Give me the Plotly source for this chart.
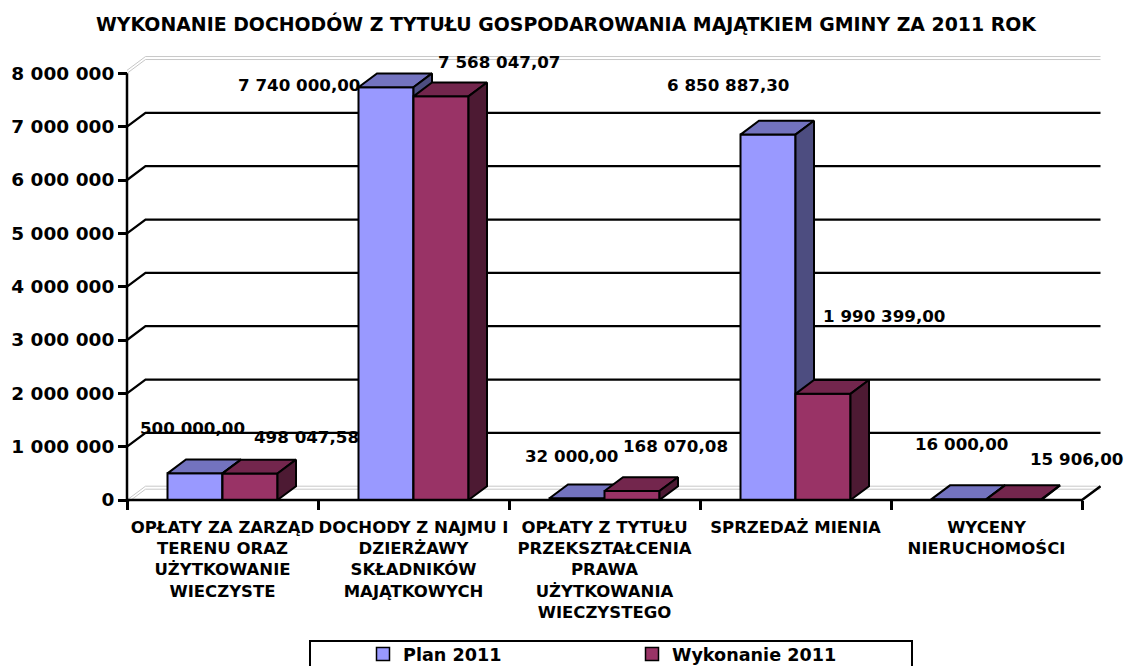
import plotly.graph_objects as go

# ---------------- data ----------------
categories = [
    "OPŁATY ZA ZARZĄD<br>TERENU ORAZ<br>UŻYTKOWANIE<br>WIECZYSTE",
    "DOCHODY Z NAJMU I<br>DZIERŻAWY<br>SKŁADNIKÓW<br>MAJĄTKOWYCH",
    "OPŁATY Z TYTUŁU<br>PRZEKSZTAŁCENIA<br>PRAWA<br>UŻYTKOWANIA<br>WIECZYSTEGO",
    "SPRZEDAŻ MIENIA",
    "WYCENY<br>NIERUCHOMOŚCI",
]
plan_2011 = [500000.00, 7740000.00, 32000.00, 6850887.30, 16000.00]
wykonanie_2011 = [498047.58, 7568047.07, 168070.08, 1990399.00, 15906.00]
series_names = ["Plan 2011", "Wykonanie 2011"]
y_tick_values = [0, 1000000, 2000000, 3000000, 4000000, 5000000, 6000000, 7000000, 8000000]
y_tick_labels = ["0", "1 000 000", "2 000 000", "3 000 000", "4 000 000",
                 "5 000 000", "6 000 000", "7 000 000", "8 000 000"]
title_text = "WYKONANIE DOCHODÓW Z TYTUŁU GOSPODAROWANIA MAJĄTKIEM GMINY ZA 2011 ROK"

# ---------------- layout / style constants ----------------
W, H = 1126, 666
ML, MR, MT, MB = 110, 25, 50, 154
PW, PH = W - ML - MR, H - MT - MB
CAT_PX = 191.0            # pixels per category
AX_X_PX = 127.0           # pixel x of the value axis
AX_Y_PX = 500.0           # pixel y of the category axis
PX_PER_VAL = 53.333 / 1e6 # pixels per value unit

x_min = -0.5 - (AX_X_PX - ML) / CAT_PX
x_max = x_min + PW / CAT_PX
y_min = -((MT + PH) - AX_Y_PX) / PX_PER_VAL
y_max = y_min + PH / PX_PER_VAL

DX = 18.5 / CAT_PX        # 3-D depth, category units
DY = 13.8 / PX_PER_VAL    # 3-D depth, value units
BAR_W = 55.0 / CAT_PX
GAP3 = 3.0 / PX_PER_VAL

FONT = "DejaVu Sans"
front_colors = ["#9999FF", "#993366"]
top_colors = ["#7373BF", "#73264D"]
side_colors = ["#4D4D80", "#4D1A33"]

# data-label offsets (pixels) relative to bar top centre
label_dx = [[-2.5, -87, -5.5, -40.5, 2.4], [56.5, 57.5, 43, 61, 62]]
label_dy = [[45, 2, 42.6, 49.6, 55], [36.7, 34.7, 45, 78, 40]]

fig = go.Figure()

# ---------------- back wall grid ----------------
x_left = -0.5
x_right = len(categories) - 0.5
gx, gy = [], []
for v in y_tick_values[1:-1]:
    gx += [x_left, x_left + DX, x_right + DX, None]
    gy += [v, v + DY, v + DY, None]
fig.add_trace(go.Scatter(x=gx, y=gy, mode="lines", line=dict(color="black", width=2.3),
                         hoverinfo="skip", showlegend=False))

wx, wy = [], []
vtop = y_tick_values[-1]
vbot = y_tick_values[0]
for v, sh in [(vtop, 0), (vtop, GAP3), (vbot, 0), (vbot, -GAP3)]:
    wx += [x_left, x_left + DX, x_right + DX, None]
    wy += [v + sh, v + DY + sh, v + DY + sh, None]
fig.add_trace(go.Scatter(x=wx, y=wy, mode="lines", line=dict(color="#C8C8C8", width=1),
                         hoverinfo="skip", showlegend=False))

# ---------------- 3-D bars ----------------
series = [plan_2011, wykonanie_2011]
for s, vals in enumerate(series):
    fx, fy, tx, ty, sx, sy = [], [], [], [], [], []
    for k, v in enumerate(vals):
        x0 = k - BAR_W if s == 0 else k
        x1 = x0 + BAR_W
        fx += [x0, x1, x1, x0, x0, None]
        fy += [0, 0, v, v, 0, None]
        tx += [x0, x1, x1 + DX, x0 + DX, x0, None]
        ty += [v, v, v + DY, v + DY, v, None]
        sx += [x1, x1 + DX, x1 + DX, x1, x1, None]
        sy += [0, DY, v + DY, v, 0, None]
    for xs, ys, col in [(fx, fy, front_colors[s]), (tx, ty, top_colors[s]), (sx, sy, side_colors[s])]:
        fig.add_trace(go.Scatter(x=xs, y=ys, mode="lines", fill="toself", fillcolor=col,
                                 line=dict(color="black", width=2), hoverinfo="skip",
                                 showlegend=False))

# ---------------- axis lines ----------------
fig.add_trace(go.Scatter(x=[x_left, x_left], y=[vbot, vtop], mode="lines",
                         line=dict(color="black", width=2.5), hoverinfo="skip", showlegend=False))
fig.add_trace(go.Scatter(x=[x_left, x_right, x_right + DX], y=[0, 0, DY], mode="lines",
                         line=dict(color="black", width=2.5), hoverinfo="skip", showlegend=False))

# ---------------- legend entries ----------------
for s, name in enumerate(series_names):
    fig.add_trace(go.Scatter(x=[None], y=[None], mode="markers", name=name,
                             marker=dict(symbol="square", size=13, color=front_colors[s],
                                         line=dict(color="black", width=1.5))))

# ---------------- data labels ----------------
def fmt(v):
    return f"{v:,.2f}".replace(",", " ").replace(".", ",")

annotations = []
for s, vals in enumerate(series):
    for k, v in enumerate(vals):
        xc = k - BAR_W / 2 if s == 0 else k + BAR_W / 2
        annotations.append(dict(x=xc, y=v, xref="x", yref="y", text=fmt(v), showarrow=False,
                                xshift=label_dx[s][k], yshift=label_dy[s][k],
                                font=dict(family=FONT, size=16.7, color="black", weight="bold")))

def px_to_paper_x(px):
    return (px - ML) / PW

def px_to_paper_y(py):
    return (MT + PH - py) / PH

shapes = [dict(type="rect", xref="paper", yref="paper",
               x0=px_to_paper_x(310), x1=px_to_paper_x(912),
               y0=px_to_paper_y(641), y1=px_to_paper_y(700),
               line=dict(color="black", width=2), fillcolor="rgba(0,0,0,0)")]

fig.update_layout(
    width=W, height=H,
    margin=dict(l=ML, r=MR, t=MT, b=MB, autoexpand=False),
    paper_bgcolor="white", plot_bgcolor="white",
    title=dict(text=title_text, x=566 / W, xanchor="center", y=1 - 24 / H, yanchor="middle",
               font=dict(family=FONT, size=18.9, color="black", weight="bold")),
    xaxis=dict(range=[x_min, x_max], anchor="free", position=(MT + PH - AX_Y_PX) / PH,
               tickmode="array", tickvals=list(range(len(categories))), ticktext=categories,
               ticks="", showline=False, showgrid=False, zeroline=False, automargin=False,
               ticklabelstandoff=15,
               tickfont=dict(family=FONT, size=16.5, color="black", weight="bold"),
               minor=dict(tickmode="array", tickvals=[k - 0.5 for k in range(len(categories) + 1)],
                          ticks="outside", ticklen=9, tickwidth=2.5, tickcolor="black",
                          showgrid=False),
               fixedrange=True),
    yaxis=dict(range=[y_min, y_max], anchor="free", position=(AX_X_PX - ML) / PW,
               tickmode="array", tickvals=y_tick_values, ticktext=y_tick_labels,
               ticks="outside", ticklen=9, tickwidth=2.5, tickcolor="black",
               showline=False, showgrid=False, zeroline=False, automargin=False,
               tickfont=dict(family=FONT, size=18.5, color="black", weight="bold"),
               fixedrange=True),
    showlegend=True,
    legend=dict(orientation="h", x=px_to_paper_x(363), xanchor="left",
                y=px_to_paper_y(636), yanchor="top",
                entrywidth=224, entrywidthmode="pixels",
                bgcolor="rgba(0,0,0,0)", borderwidth=0,
                font=dict(family=FONT, size=17.6, color="black", weight="bold")),
    annotations=annotations,
    shapes=shapes,
    hovermode=False,
)

fig.write_html("out.html", config={"displayModeBar": False},
               post_script="document.body.style.margin='0';")
